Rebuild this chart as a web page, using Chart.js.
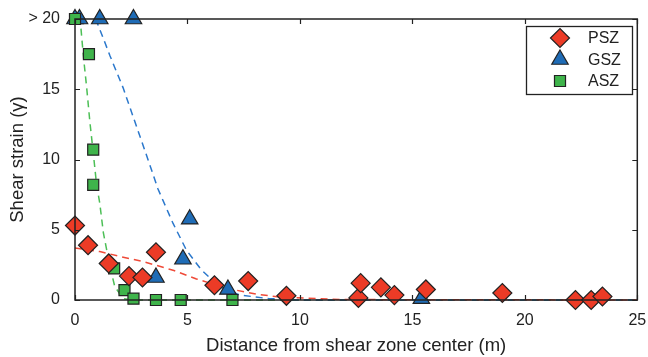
<!DOCTYPE html>
<html>
<head>
<meta charset="utf-8">
<script src="https://cdn.jsdelivr.net/npm/chart.js@4.4.1/dist/chart.umd.min.js"></script>
<style>
  html, body { margin: 0; padding: 0; background: #fff; }
  #wrap { width: 648px; height: 357px; }
</style>
</head>
<body>
<div id="wrap"><canvas id="strain" width="648" height="357"></canvas></div>
<script>
// values (distance in m, shear strain)
const xTicks = [0, 5, 10, 15, 20, 25];
const yTicks = [0, 5, 10, 15, 20];
const yTickLabels = ['0', '5', '10', '15', '> 20'];

const pszX = [0, 0.58, 1.5, 2.4, 3.0, 3.6, 6.2, 7.7, 9.4, 12.6, 12.7, 13.6, 14.2, 15.6, 19.0, 22.25, 22.95, 23.45];
const pszY = [5.3, 3.9, 2.6, 1.7, 1.6, 3.4, 1.05, 1.35, 0.3, 0.15, 1.2, 0.9, 0.35, 0.75, 0.5, 0.0, 0.0, 0.25];

const gszX = [0, 0.2, 1.1, 2.6, 3.6, 4.8, 5.1, 6.8, 15.4];
const gszY = [20, 20, 20, 20, 1.6, 2.9, 5.75, 0.75, 0.1];

const aszX = [0, 0.62, 0.81, 0.81, 1.74, 2.2, 2.6, 3.6, 4.7, 7.0];
const aszY = [20, 17.5, 10.7, 8.2, 2.25, 0.7, 0.1, 0, 0, 0];

// dashed trend curves
const pszFitX = [0, 1.1, 2.0, 3.0, 4.4, 5.4, 6.7, 8.1, 9.2, 10.7, 12.0, 25];
const pszFitY = [3.7, 3.45, 3.1, 2.75, 2.1, 1.5, 0.85, 0.4, 0.2, 0.1, 0.03, 0];
const gszFitX = [0.92, 1.24, 1.55, 2.14, 2.66, 3.18, 3.69, 4.36, 4.95, 5.62, 6.43, 7.31, 8.6, 10, 25];
const gszFitY = [20, 18.7, 17.4, 15.1, 12.7, 10.3, 7.9, 5.45, 3.56, 2.14, 0.95, 0.36, 0.1, 0, 0];
const aszFitX = [0, 0.25, 0.37, 0.52, 0.66, 0.81, 0.96, 1.1, 1.26, 1.55, 1.77, 2.14, 2.6, 25];
const aszFitY = [20, 19.6, 17.4, 15.1, 12.7, 10.5, 8.2, 6.9, 4.8, 2.4, 0.95, 0.1, 0, 0];

const red = '#ec3b26';
const blue = '#1f6cb6';
const green = '#3fb44b';
const fontFamily = '"Liberation Sans", Arial, sans-serif';

const pairs = (xs, ys) => xs.map((x, i) => ({ x: x, y: ys[i] }));

const fitLine = (label, xs, ys, color) => ({
  label: label,
  type: 'line',
  data: pairs(xs, ys),
  borderColor: color,
  borderWidth: 1.5,
  borderDash: [7, 5],
  pointRadius: 0,
  fill: false,
  tension: 0,
  order: 5,
  hideLegend: true
});

const markers = (label, xs, ys, color, style, r, order) => ({
  label: label,
  data: pairs(xs, ys),
  backgroundColor: color,
  borderColor: '#222',
  borderWidth: 1.2,
  pointStyle: style,
  pointRadius: r,
  pointHoverRadius: r,
  order: order
});

// no extra room for overhanging tick labels, the layout padding handles it
const noOverhang = s => {
  s.paddingLeft = 0; s.paddingRight = 0;
  s.paddingTop = 0; s.paddingBottom = 0;
};

// box, inward ticks (top/bottom/left/right)
const framePlugin = {
  id: 'frame',
  afterDatasetsDraw(chart) {
    const { ctx, chartArea: a, scales } = chart;
    ctx.save();
    ctx.strokeStyle = '#222';
    ctx.lineWidth = 1.5;
    ctx.strokeRect(a.left, a.top, a.right - a.left, a.bottom - a.top);
    ctx.lineWidth = 1.2;
    ctx.beginPath();
    xTicks.forEach(v => {
      const px = Math.round(scales.x.getPixelForValue(v)) + 0.5;
      ctx.moveTo(px, a.bottom); ctx.lineTo(px, a.bottom - 5);
      ctx.moveTo(px, a.top); ctx.lineTo(px, a.top + 5);
    });
    yTicks.forEach(v => {
      const py = Math.round(scales.y.getPixelForValue(v)) + 0.5;
      ctx.moveTo(a.left, py); ctx.lineTo(a.left + 5, py);
      ctx.moveTo(a.right, py); ctx.lineTo(a.right - 5, py);
    });
    ctx.stroke();
    ctx.restore();
  }
};

// legend box in the upper right corner
const legendPlugin = {
  id: 'boxLegend',
  afterDraw(chart) {
    const ctx = chart.ctx;
    const items = chart.data.datasets.filter(d => !d.hideLegend);
    const boxL = 526, boxT = 26, boxW = 106, boxH = 68;
    ctx.save();
    ctx.fillStyle = '#fff';
    ctx.fillRect(boxL, boxT, boxW, boxH);
    ctx.strokeStyle = '#222';
    ctx.lineWidth = 1.3;
    ctx.strokeRect(boxL + 0.5, boxT + 0.5, boxW, boxH);
    ctx.font = '16px ' + fontFamily;
    ctx.textBaseline = 'middle';
    items.forEach((d, i) => {
      const y = boxT + 12 + i * 21.5;
      ctx.fillStyle = d.backgroundColor;
      ctx.strokeStyle = d.borderColor;
      ctx.lineWidth = d.borderWidth;
      Chart.helpers.drawPoint(ctx, { pointStyle: d.pointStyle, radius: d.pointRadius, rotation: 0, borderWidth: d.borderWidth }, 560, y);
      ctx.fillStyle = '#222';
      ctx.fillText(d.label, 588, y + 1);
    });
    ctx.restore();
  }
};

new Chart(document.getElementById('strain'), {
  type: 'scatter',
  data: {
    datasets: [
      markers('PSZ', pszX, pszY, red, 'rectRot', 9.5, 0),
      markers('GSZ', gszX, gszY, blue, 'triangle', 9.5, 2),
      markers('ASZ', aszX, aszY, green, 'rect', 7.8, 1),
      fitLine('PSZ fit', pszFitX, pszFitY, '#ef4a38'),
      fitLine('GSZ fit', gszFitX, gszFitY, '#2b78cc'),
      fitLine('ASZ fit', aszFitX, aszFitY, '#4cbf56')
    ]
  },
  options: {
    responsive: false,
    animation: false,
    clip: false,
    layout: { padding: { left: 0, top: 19, right: 9, bottom: 0 } },
    plugins: {
      legend: { display: false },
      tooltip: { enabled: false }
    },
    scales: {
      x: {
        type: 'linear',
        min: 0, max: 25,
        afterFit: s => { s.height = 57; noOverhang(s); },
        afterBuildTicks: s => { s.ticks = xTicks.map(v => ({ value: v })); },
        grid: { display: false, drawTicks: false },
        border: { display: false },
        ticks: { color: '#222', padding: 11, font: { size: 16, family: fontFamily } },
        title: {
          display: true,
          text: 'Distance from shear zone center (m)',
          color: '#222',
          font: { size: 18.5, family: fontFamily },
          padding: { top: 0, bottom: 0 }
        }
      },
      y: {
        type: 'linear',
        min: 0, max: 20,
        afterFit: s => { s.width = 75; noOverhang(s); },
        afterBuildTicks: s => { s.ticks = yTicks.map(v => ({ value: v })); },
        grid: { display: false, drawTicks: false },
        border: { display: false },
        ticks: {
          color: '#222',
          padding: 15,
          font: { size: 16, family: fontFamily },
          callback: v => yTickLabels[yTicks.indexOf(v)]
        },
        title: {
          display: true,
          text: 'Shear strain (γ)',
          color: '#222',
          font: { size: 18.5, family: fontFamily },
          padding: { top: 7, bottom: 0 }
        }
      }
    }
  },
  plugins: [framePlugin, legendPlugin]
});
</script>
</body>
</html>
